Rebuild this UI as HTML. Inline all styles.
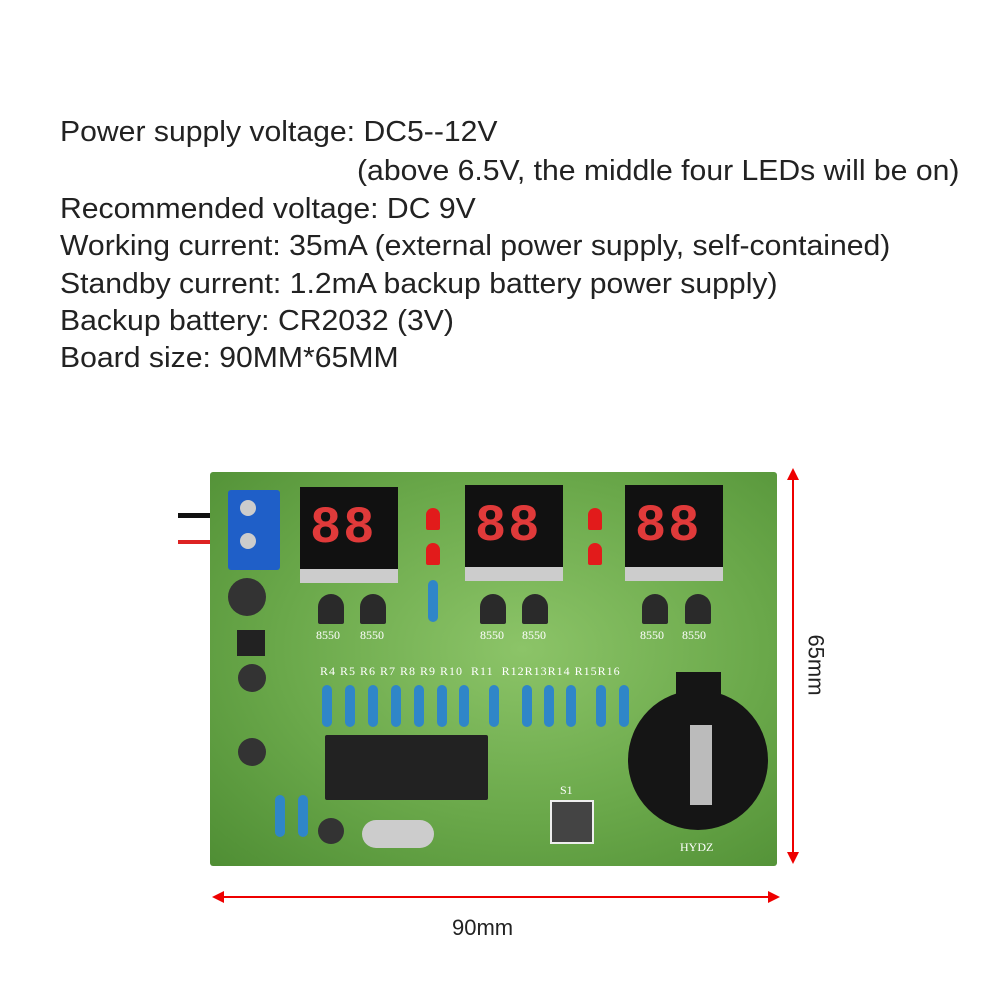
<!DOCTYPE html>
<html><head><meta charset="utf-8"><style>
body{margin:0;width:1002px;height:1002px;background:#fff;position:relative;overflow:hidden;font-family:"Liberation Sans",sans-serif}
.t{position:absolute;left:60px;font-size:29px;line-height:30px;color:#222;white-space:nowrap;transform-origin:0 50%;transform:scaleX(1.04)}
.a{position:absolute}
.board{position:absolute;left:210px;top:472px;width:567px;height:394px;background:radial-gradient(ellipse at 55% 45%,#8cc468 0%,#6aa84a 55%,#4f8e34 100%);border-radius:3px}
.disp{position:absolute;width:98px;height:96px;background:#111;border-bottom:14px solid #ccc;box-sizing:border-box}
.disp span{position:absolute;top:12px;font:bold 52px "Liberation Mono",monospace;color:#e03a3a;letter-spacing:2px}
.tr{position:absolute;width:26px;height:30px;background:#2a2a2a;border-radius:13px 13px 2px 2px}
.lbl{position:absolute;font:12px "Liberation Serif",serif;color:#fff}
.res{position:absolute;width:10px;height:42px;background:#2f86c8;border-radius:5px}
.led{position:absolute;width:14px;height:22px;background:#e21b1b;border-radius:7px 7px 2px 2px}
</style></head><body>
<div class="t" style="top:117px">Power supply voltage: DC5--12V</div>
<div class="t" style="top:156px;left:357px">(above 6.5V, the middle four LEDs will be on)</div>
<div class="t" style="top:194px">Recommended voltage: DC 9V</div>
<div class="t" style="top:231px">Working current: 35mA (external power supply, self-contained)</div>
<div class="t" style="top:269px">Standby current: 1.2mA backup battery power supply)</div>
<div class="t" style="top:306px">Backup battery: CR2032 (3V)</div>
<div class="t" style="top:343px">Board size: 90MM*65MM</div>

<div class="a" style="left:178px;top:513px;width:50px;height:5px;background:#111"></div>
<div class="a" style="left:178px;top:540px;width:50px;height:4px;background:#d22"></div>
<div class="board"></div>
<div class="a" style="left:228px;top:490px;width:52px;height:80px;background:#1f5fc8;border-radius:3px"></div>
<div class="a" style="left:240px;top:500px;width:16px;height:16px;background:#ccc;border-radius:50%"></div>
<div class="a" style="left:240px;top:533px;width:16px;height:16px;background:#ccc;border-radius:50%"></div>

<div class="disp" style="left:300px;top:487px"><span style="left:10px">88</span></div>
<div class="disp" style="left:465px;top:485px"><span style="left:10px">88</span></div>
<div class="disp" style="left:625px;top:485px"><span style="left:10px">88</span></div>
<div class="led" style="left:426px;top:508px"></div><div class="led" style="left:426px;top:543px"></div>
<div class="led" style="left:588px;top:508px"></div><div class="led" style="left:588px;top:543px"></div>

<div class="tr" style="left:318px;top:594px"></div><div class="tr" style="left:360px;top:594px"></div>
<div class="tr" style="left:480px;top:594px"></div><div class="tr" style="left:522px;top:594px"></div>
<div class="tr" style="left:642px;top:594px"></div><div class="tr" style="left:685px;top:594px"></div>
<div class="lbl" style="left:316px;top:628px">8550</div><div class="lbl" style="left:360px;top:628px">8550</div>
<div class="lbl" style="left:480px;top:628px">8550</div><div class="lbl" style="left:522px;top:628px">8550</div>
<div class="lbl" style="left:640px;top:628px">8550</div><div class="lbl" style="left:682px;top:628px">8550</div>
<div class="res" style="left:428px;top:580px"></div>

<div class="lbl" style="left:320px;top:664px;letter-spacing:1px">R4 R5 R6 R7 R8 R9 R10 &nbsp;R11 &nbsp;R12R13R14 R15R16</div>
<div class="res" style="left:322px;top:685px"></div><div class="res" style="left:345px;top:685px"></div>
<div class="res" style="left:368px;top:685px"></div><div class="res" style="left:391px;top:685px"></div>
<div class="res" style="left:414px;top:685px"></div><div class="res" style="left:437px;top:685px"></div>
<div class="res" style="left:459px;top:685px"></div><div class="res" style="left:489px;top:685px"></div>
<div class="res" style="left:522px;top:685px"></div><div class="res" style="left:544px;top:685px"></div>
<div class="res" style="left:566px;top:685px"></div><div class="res" style="left:596px;top:685px"></div>
<div class="res" style="left:619px;top:685px"></div>
<div class="res" style="left:275px;top:795px"></div><div class="res" style="left:298px;top:795px"></div>

<div class="a" style="left:325px;top:735px;width:163px;height:65px;background:#222;border-radius:2px"></div>
<div class="a" style="left:362px;top:820px;width:72px;height:28px;background:#ccc;border-radius:14px"></div>
<div class="a" style="left:550px;top:800px;width:40px;height:40px;background:#444;border:2px solid #eee"></div>
<div class="a" style="left:628px;top:690px;width:140px;height:140px;background:#151515;border-radius:50%"></div>
<div class="a" style="left:676px;top:672px;width:45px;height:40px;background:#151515"></div>
<div class="a" style="left:690px;top:725px;width:22px;height:80px;background:#bbb"></div>
<div class="a" style="left:228px;top:578px;width:38px;height:38px;background:#333;border-radius:50%"></div>
<div class="a" style="left:238px;top:664px;width:28px;height:28px;background:#333;border-radius:50%"></div>
<div class="a" style="left:238px;top:738px;width:28px;height:28px;background:#333;border-radius:50%"></div>
<div class="a" style="left:318px;top:818px;width:26px;height:26px;background:#333;border-radius:50%"></div>
<div class="a" style="left:237px;top:630px;width:28px;height:26px;background:#222"></div>
<div class="lbl" style="left:680px;top:840px">HYDZ</div>
<div class="lbl" style="left:560px;top:783px">S1</div>

<div class="a" style="left:792px;top:475px;width:2px;height:385px;background:#e00"></div>
<div class="a" style="left:787px;top:468px;width:0;height:0;border-left:6px solid transparent;border-right:6px solid transparent;border-bottom:12px solid #e00"></div>
<div class="a" style="left:787px;top:852px;width:0;height:0;border-left:6px solid transparent;border-right:6px solid transparent;border-top:12px solid #e00"></div>
<div class="a" style="left:218px;top:896px;width:556px;height:2px;background:#e00"></div>
<div class="a" style="left:212px;top:891px;width:0;height:0;border-top:6px solid transparent;border-bottom:6px solid transparent;border-right:12px solid #e00"></div>
<div class="a" style="left:768px;top:891px;width:0;height:0;border-top:6px solid transparent;border-bottom:6px solid transparent;border-left:12px solid #e00"></div>
<div class="a" style="left:785px;top:652px;font-size:22px;color:#222;transform:rotate(90deg);transform-origin:center">65mm</div>
<div class="a" style="left:452px;top:915px;font-size:22px;color:#222">90mm</div>
</body></html>
